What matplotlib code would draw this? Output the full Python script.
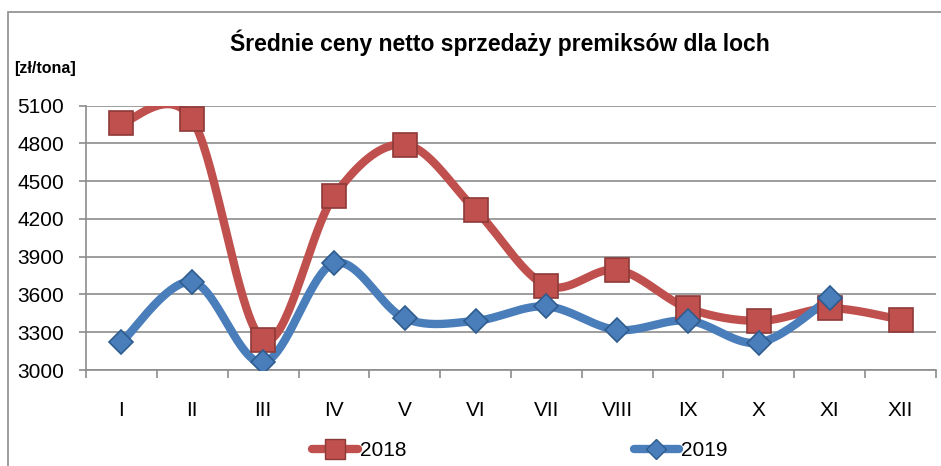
import numpy as np
import matplotlib
matplotlib.use("Agg")
from matplotlib import pyplot as plt
from matplotlib.lines import Line2D
from matplotlib.patches import Rectangle

months = ["I", "II", "III", "IV", "V", "VI", "VII", "VIII", "IX", "X", "XI", "XII"]
ceny_2018 = [4960, 4990, 3240, 4380, 4790, 4270, 3670, 3795, 3490, 3390, 3490, 3400]
ceny_2019 = [3220, 3700, 3060, 3848, 3410, 3390, 3505, 3318, 3392, 3217, 3568]
yticks = [3000, 3300, 3600, 3900, 4200, 4500, 4800, 5100]

plt.rcParams['font.family'] = ['Liberation Sans Narrow', 'Liberation Sans', 'DejaVu Sans']

red, red_edge = '#C0504D', '#8C3A38'
blue, blue_edge = '#4A7EBB', '#2F5C8F'
grid_c = '#8C8C8C'


def smooth(y, n=40):
    # excel-like smoothed line (catmull-rom -> bezier)
    y = np.asarray(y, float)
    x = np.arange(len(y), dtype=float)
    pts = np.column_stack([x, y])
    ext = np.vstack([pts[0], pts, pts[-1]])
    out = []
    t = np.linspace(0, 1, n)[:, None]
    for i in range(len(pts) - 1):
        p0, p1 = ext[i + 1], ext[i + 2]
        c1 = p0 + (ext[i + 2] - ext[i]) / 6
        c2 = p1 - (ext[i + 3] - ext[i + 1]) / 6
        seg = ((1 - t) ** 3) * p0 + 3 * ((1 - t) ** 2) * t * c1 + 3 * (1 - t) * t ** 2 * c2 + t ** 3 * p1
        out.append(seg if i == 0 else seg[1:])
    s = np.vstack(out)
    return s[:, 0], s[:, 1]


fig = plt.figure(figsize=(9.41, 4.66), dpi=100)
ax = fig.add_axes([86 / 941, 1 - 370 / 466, 850 / 941, 264.5 / 466])

for vals, col, ec, mk, ms in [(ceny_2018, red, red_edge, 's', 17),
                              (ceny_2019, blue, blue_edge, 'D', 12)]:
    sx, sy = smooth(vals)
    ax.plot(sx, sy, color=col, lw=6, solid_capstyle='round', zorder=3)
    ax.plot(range(len(vals)), vals, ls='none', marker=mk, ms=ms, mfc=col,
            mec=ec, mew=1.2, zorder=4)

ax.set_xlim(-0.5, 11.5)
ax.set_ylim(3000, 5100)
ax.set_yticks(yticks)
ax.set_yticklabels([str(v) for v in yticks], fontsize=15)
ax.set_xticks(range(12))
ax.set_xticklabels(months, fontsize=15)
ax.set_xticks(np.arange(-0.5, 12, 1), minor=True)
ax.tick_params(axis='x', which='major', length=0, pad=22)
ax.tick_params(axis='x', which='minor', length=6, width=1.2, color=grid_c)
ax.tick_params(axis='y', length=5, width=1.2, color=grid_c, pad=11)
ax.grid(axis='y', color=grid_c, lw=1.2)
ax.set_axisbelow(True)
for side in ['top', 'right']:
    ax.spines[side].set_visible(False)
for side in ['left', 'bottom']:
    ax.spines[side].set_color(grid_c)
    ax.spines[side].set_linewidth(1.2)

fig.text(500 / 941, 1 - 43 / 466, 'Średnie ceny netto sprzedaży premiksów dla loch',
         ha='center', va='center', fontsize=16.5, fontweight='bold')
fig.text(14 / 941, 1 - 68 / 466, '[zł/tona]', ha='left', va='center',
         fontsize=11.5, fontweight='bold')

# chart frame, cropped on right and bottom
fig.patches.append(Rectangle((8 / 941, -1), 2, 1 - 12 / 466 + 1, transform=fig.transFigure,
                             fill=False, ec=grid_c, lw=1.2))

handles = [Line2D([], [], color=red, lw=6, solid_capstyle='round', marker='s', ms=14,
                  mfc=red, mec=red_edge),
           Line2D([], [], color=blue, lw=6, solid_capstyle='round', marker='D', ms=10,
                  mfc=blue, mec=blue_edge)]
fig.legend(handles, ['2018', '2019'], loc='center', bbox_to_anchor=(520 / 941, 1 - 451 / 466),
           ncol=2, frameon=False, fontsize=15, handlelength=2.2, handletextpad=0.1,
           columnspacing=10.9)

fig.savefig('out.png', dpi=100)
